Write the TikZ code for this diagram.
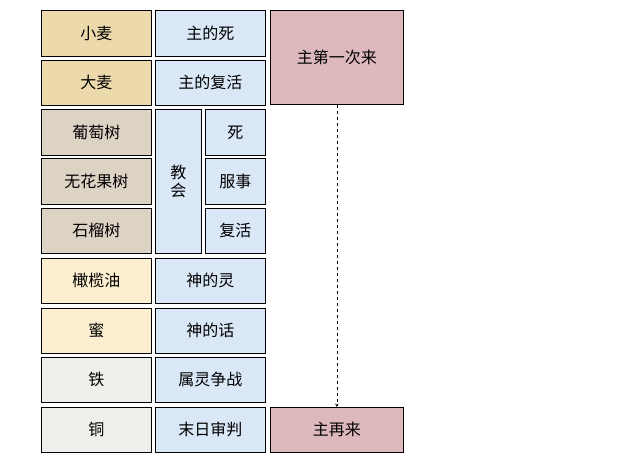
\documentclass[tikz,border=0pt]{standalone}
\usepackage{fontspec}
\setmainfont{Noto Sans CJK SC}
\begin{document}
\begin{tikzpicture}[x=1pt,y=-1pt,
 bx/.style={draw=black,line width=0.6pt,inner sep=0pt,font=\fontsize{16}{18}\selectfont},
 tan/.style={fill=tanc}, gry/.style={fill=grayt}, crm/.style={fill=cream}, lg/.style={fill=lgray},
 blu/.style={fill=bluec}, pnk/.style={fill=pinkc}]
\definecolor{tanc}{HTML}{EDDAAC}
\definecolor{grayt}{HTML}{DDD3C4}
\definecolor{cream}{HTML}{FCEFCF}
\definecolor{lgray}{HTML}{EEEEEA}
\definecolor{bluec}{HTML}{DAE7F6}
\definecolor{pinkc}{HTML}{DDB9BD}
\useasboundingbox (0,0) rectangle (630,467);
\newcommand\bxat[7]{\node[bx,#6,minimum width=#3,minimum height=#4,anchor=north west] (#7) at (#1,#2) {#5};}
\bxat{41}{10}{110pt}{46pt}{小麦}{tan}{a1}
\bxat{41}{60}{110pt}{45pt}{大麦}{tan}{a2}
\bxat{41}{109}{110pt}{46pt}{葡萄树}{gry}{a3}
\bxat{41}{158}{110pt}{46pt}{无花果树}{gry}{a4}
\bxat{41}{208}{110pt}{45pt}{石榴树}{gry}{a5}
\bxat{41}{258}{110pt}{45pt}{橄榄油}{crm}{a6}
\bxat{41}{308}{110pt}{45pt}{蜜}{crm}{a7}
\bxat{41}{357}{110pt}{45pt}{铁}{lg}{a8}
\bxat{41}{407}{110pt}{45pt}{铜}{lg}{a9}
\bxat{155}{10}{110pt}{46pt}{主的死}{blu}{b1}
\bxat{155}{60}{110pt}{45pt}{主的复活}{blu}{b2}
\node[bx,blu,minimum width=46pt,minimum height=144pt,anchor=north west,align=center] (jh) at (155,109) {教\\会};
\bxat{205}{109}{60pt}{46pt}{死}{blu}{c1}
\bxat{205}{158}{60pt}{46pt}{服事}{blu}{c2}
\bxat{205}{208}{60pt}{45pt}{复活}{blu}{c3}
\bxat{155}{258}{110pt}{45pt}{神的灵}{blu}{b6}
\bxat{155}{308}{110pt}{45pt}{神的话}{blu}{b7}
\bxat{155}{357}{110pt}{45pt}{属灵争战}{blu}{b8}
\bxat{155}{407}{110pt}{45pt}{末日审判}{blu}{b9}
\bxat{270}{10}{133pt}{94pt}{主第一次来}{pnk}{p1}
\bxat{270}{407}{133pt}{45pt}{主再来}{pnk}{p2}
\draw[dashed,-stealth,line width=0.5pt] (p1.south) -- (p2.north);
\end{tikzpicture}
\end{document}
